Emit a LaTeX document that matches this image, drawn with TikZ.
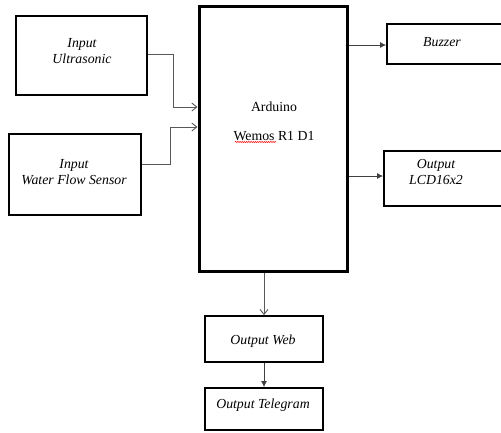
\documentclass[tikz,border=0pt]{standalone}
\usepackage{fontspec}
\setmainfont{Liberation Serif}
\usetikzlibrary{arrows.meta,decorations.pathmorphing}
\begin{document}
\begin{tikzpicture}[x=1pt,y=1pt,
  box/.style={draw=black, line width=1.8pt, inner sep=0pt},
  bigbox/.style={draw=black, line width=3pt, inner sep=0pt},
  lbl/.style={font=\fontsize{13.8}{16}\selectfont\itshape, align=center, inner sep=0pt},
  plbl/.style={font=\fontsize{13.8}{16}\selectfont, align=center, inner sep=0pt},
  openarr/.style={draw=black!65, line width=0.9pt, -{Straight Barb[length=5pt,width=8pt]}},
  fillarr/.style={draw=black!75, line width=0.9pt, -{Latex[length=6pt,width=6pt]}}]
\clip (0,0) rectangle (501,-432);
\fill[white] (0,0) rectangle (501,-432);
% boxes
\node[box, minimum width=131pt, minimum height=79pt] (us) at (81.5,-55.5) {};
\node[box, minimum width=132pt, minimum height=81pt] (wf) at (75,-174.5) {};
\node[bigbox, minimum width=148pt, minimum height=265pt] (ard) at (273,-138.5) {};
\node[box, minimum width=120pt, minimum height=40pt] (bz) at (447,-44) {};
\node[box, minimum width=123pt, minimum height=55pt] (lcd) at (445.5,-178.5) {};
\node[box, minimum width=118pt, minimum height=46pt] (web) at (264,-339) {};
\node[box, minimum width=118pt, minimum height=42pt] (tg) at (264,-409) {};
% texts
\node[lbl] (tus) at (82,-51) {Input\\Ultrasonic};
\node[lbl] (twf) at (74,-172) {Input\\Water Flow Sensor};
\node[plbl] (tard) at (274,-121) {Arduino\\[13pt]Wemos R1 D1};
\node[lbl] (tbz) at (442,-42) {Buzzer};
\node[lbl] (tlcd) at (436,-172) {Output\\LCD16x2};
\node[lbl] (tweb) at (263,-341) {Output Web};
\node[lbl] (ttg) at (263,-405) {Output Telegram};
% spellcheck squiggle
\draw[red, line width=0.5pt, decorate, decoration={snake, amplitude=0.6pt, segment length=2.2pt}] (235,-142) -- (276,-142);
% connectors
\coordinate (a1) at (ard.west |- 0,-107);
\coordinate (a2) at (ard.west |- 0,-127);
\draw[openarr] (us.east |- 0,-54) -| (173,-107) -- (a1);
\draw[openarr] (wf.east |- 0,-164) -| (170,-127) -- (a2);
\draw[fillarr] (ard.east |- 0,-45) -- (bz.west |- 0,-45);
\draw[fillarr] (ard.east |- 0,-176) -- (lcd.west |- 0,-176);
\draw[openarr] (ard.south -| 264,0) -- (web.north);
\draw[fillarr] (web.south) -- (tg.north);
\end{tikzpicture}
\end{document}
